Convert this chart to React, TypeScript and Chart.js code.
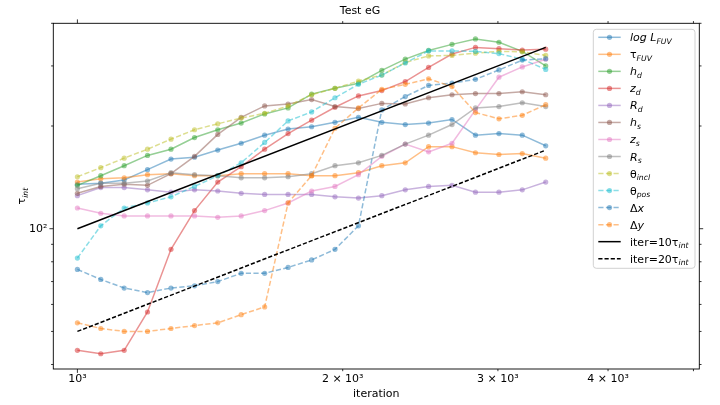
import { useEffect, useRef } from 'react';
import { Chart, registerables } from 'chart.js';

Chart.register(...registerables);

const FONT = '"DejaVu Sans", sans-serif';

// iteration values (x)
const iterations = [1000, 1063, 1130, 1201, 1277, 1358, 1443, 1534, 1631, 1734, 1844, 1960, 2084, 2215, 2355, 2503, 2661, 2829, 3008, 3197, 3399];

// autocorrelation time per parameter
const logLFUV = [135, 136, 139, 149, 160, 162, 170, 178, 188, 196, 199, 205, 212, 205, 202, 204, 209, 188, 190, 188, 175];
const tauFUV = [137, 140, 141, 144, 145, 143, 143, 145, 145, 145, 143, 143, 146, 153, 156, 174, 174, 167, 165, 166, 161];
const hD = [134, 143, 153, 164, 171, 185, 195, 204, 217, 226, 248, 258, 267, 291, 314, 333, 347, 360, 352, 331, 300];
const zD = [44, 43, 44, 57, 87, 113, 137, 152, 171, 190, 208, 227, 245, 254, 270, 297, 325, 340, 337, 334, 336];
const rD = [125, 132, 132, 130, 128, 130, 129, 127, 126, 126, 126, 124, 123, 125, 130, 133, 134, 128, 128, 130, 137];
const hS = [127, 133, 135, 134, 145, 163, 189, 212, 229, 232, 239, 228, 225, 233, 232, 242, 247, 249, 249, 252, 247];
const zS = [115, 111, 109, 109, 109, 109, 108, 109, 113, 119, 129, 133, 144, 163, 177, 168, 178, 223, 278, 298, 314];
const rS = [131, 136, 136, 138, 146, 144, 143, 141, 141, 142, 145, 153, 156, 164, 177, 188, 202, 226, 228, 234, 228];
const thetaIncl = [142, 151, 161, 171, 183, 195, 203, 211, 218, 229, 247, 258, 271, 282, 307, 321, 322, 327, 331, 330, 322];
const thetaPos = [82, 102, 115, 119, 124, 133, 143, 156, 179, 207, 220, 242, 265, 282, 306, 332, 332, 331, 326, 314, 293];
const deltaX = [76, 71, 67, 65, 67, 68, 70, 74, 74, 77, 81, 87, 102, 223, 244, 263, 267, 274, 292, 312, 315];
const deltaY = [53, 51, 50, 50, 51, 52, 53, 56, 59, 119, 143, 197, 226, 256, 265, 275, 261, 219, 210, 215, 231];

// reference lines iter = 10 tau, iter = 20 tau
const refIter = [1000, 3399];
const ref10 = [100, 339.9];
const ref20 = [50, 169.95];

// ticks
const xTickValues = [1000, 2000, 3000, 4000, 5000];
const xTickLabels = ['10³', '2 × 10³', '3 × 10³', '4 × 10³', ''];
const xTickMajor = [true, false, false, false, false];
const yTickValues = [40, 50, 60, 70, 80, 90, 100, 200, 300, 400];
const yTickLabels = ['', '', '', '', '', '', '10²', '', '', ''];
const yTickMajor = [false, false, false, false, false, false, true, false, false, false];

type Part = { t: string; it?: boolean; sub?: boolean };

const seriesDefs: { parts: Part[]; values: number[]; color: number[]; dashed: boolean }[] = [
  { parts: [{ t: 'log L', it: true }, { t: 'FUV', it: true, sub: true }], values: logLFUV, color: [31, 119, 180], dashed: false },
  { parts: [{ t: 'τ' }, { t: 'FUV', it: true, sub: true }], values: tauFUV, color: [255, 127, 14], dashed: false },
  { parts: [{ t: 'h', it: true }, { t: 'd', it: true, sub: true }], values: hD, color: [44, 160, 44], dashed: false },
  { parts: [{ t: 'z', it: true }, { t: 'd', it: true, sub: true }], values: zD, color: [214, 39, 40], dashed: false },
  { parts: [{ t: 'R', it: true }, { t: 'd', it: true, sub: true }], values: rD, color: [148, 103, 189], dashed: false },
  { parts: [{ t: 'h', it: true }, { t: 's', it: true, sub: true }], values: hS, color: [140, 86, 75], dashed: false },
  { parts: [{ t: 'z', it: true }, { t: 's', it: true, sub: true }], values: zS, color: [227, 119, 194], dashed: false },
  { parts: [{ t: 'R', it: true }, { t: 's', it: true, sub: true }], values: rS, color: [127, 127, 127], dashed: false },
  { parts: [{ t: 'θ' }, { t: 'incl', it: true, sub: true }], values: thetaIncl, color: [188, 189, 34], dashed: true },
  { parts: [{ t: 'θ' }, { t: 'pos', it: true, sub: true }], values: thetaPos, color: [23, 190, 207], dashed: true },
  { parts: [{ t: 'Δ' }, { t: 'x', it: true }], values: deltaX, color: [31, 119, 180], dashed: true },
  { parts: [{ t: 'Δ' }, { t: 'y', it: true }], values: deltaY, color: [255, 127, 14], dashed: true },
];

const refDefs: { parts: Part[]; values: number[]; dashed: boolean }[] = [
  { parts: [{ t: 'iter=10' }, { t: 'τ' }, { t: 'int', it: true, sub: true }], values: ref10, dashed: false },
  { parts: [{ t: 'iter=20' }, { t: 'τ' }, { t: 'int', it: true, sub: true }], values: ref20, dashed: true },
];

const rgba = (c: number[], a: number) => `rgba(${c[0]},${c[1]},${c[2]},${a})`;
const DASH = [5.2, 2.4];
const SIZE = 11;

function partFont(p: Part, size: number) {
  const s = p.sub ? size * 0.7 : size;
  return `${p.it ? 'italic ' : ''}${s}px ${FONT}`;
}

function richWidth(ctx: CanvasRenderingContext2D, parts: Part[], size: number) {
  let w = 0;
  for (const p of parts) {
    ctx.font = partFont(p, size);
    w += ctx.measureText(p.t).width;
  }
  return w;
}

function drawRich(ctx: CanvasRenderingContext2D, parts: Part[], x: number, baseline: number, size: number) {
  let cx = x;
  ctx.textBaseline = 'alphabetic';
  ctx.textAlign = 'left';
  for (const p of parts) {
    ctx.font = partFont(p, size);
    ctx.fillText(p.t, cx, baseline + (p.sub ? size * 0.24 : 0));
    cx += ctx.measureText(p.t).width;
  }
}

export default function App() {
  const ref = useRef<HTMLCanvasElement>(null);

  useEffect(() => {
    if (!ref.current) return;

    const datasets: any[] = seriesDefs.map((s, i) => ({
      label: s.parts.map((p) => p.t).join(''),
      data: iterations.map((x, j) => ({ x, y: s.values[j] })),
      borderColor: rgba(s.color, 0.5),
      backgroundColor: rgba(s.color, 0.5),
      pointBackgroundColor: rgba(s.color, 0.5),
      pointBorderColor: rgba(s.color, 0),
      pointBorderWidth: 0,
      pointRadius: 2.6,
      borderWidth: 1.5,
      borderDash: s.dashed ? DASH : [],
      tension: 0,
      fill: false,
      order: 20 - i,
    }));
    refDefs.forEach((r, i) => {
      datasets.push({
        label: r.parts.map((p) => p.t).join(''),
        data: refIter.map((x, j) => ({ x, y: r.values[j] })),
        borderColor: '#000',
        backgroundColor: '#000',
        pointRadius: 0,
        borderWidth: 1.5,
        borderDash: r.dashed ? [4.2, 2] : [],
        tension: 0,
        fill: false,
        order: 2 - i,
      });
    });

    const overlay = {
      id: 'overlay',
      afterDraw(chart: any) {
        const ctx: CanvasRenderingContext2D = chart.ctx;
        const { left, right, top, bottom } = chart.chartArea;
        const xs = chart.scales.x;
        const ys = chart.scales.y;
        ctx.save();
        // frame
        ctx.strokeStyle = '#000';
        ctx.lineWidth = 0.9;
        ctx.setLineDash([]);
        ctx.strokeRect(left, top, right - left, bottom - top);
        // tick marks on all sides, outward
        ctx.beginPath();
        xTickValues.forEach((v, i) => {
          const px = xs.getPixelForValue(v);
          const len = xTickMajor[i] ? 3.9 : 2.2;
          ctx.moveTo(px, bottom);
          ctx.lineTo(px, bottom + len);
          ctx.moveTo(px, top);
          ctx.lineTo(px, top - len);
        });
        yTickValues.forEach((v, i) => {
          const py = ys.getPixelForValue(v);
          const len = yTickMajor[i] ? 3.9 : 2.2;
          ctx.moveTo(left, py);
          ctx.lineTo(left - len, py);
          ctx.moveTo(right, py);
          ctx.lineTo(right + len, py);
        });
        ctx.lineWidth = 0.8;
        ctx.stroke();

        ctx.fillStyle = '#000';
        // title (figure centered)
        ctx.font = `${SIZE}px ${FONT}`;
        ctx.textAlign = 'center';
        ctx.textBaseline = 'alphabetic';
        ctx.fillText('Test eG', 360, 14);
        // x label
        ctx.fillText('iteration', (left + right) / 2, 397);
        // y label
        const yParts: Part[] = [{ t: 'τ' }, { t: 'int', it: true, sub: true }];
        const yw = richWidth(ctx, yParts, SIZE);
        ctx.save();
        ctx.translate(25, (top + bottom) / 2);
        ctx.rotate(-Math.PI / 2);
        drawRich(ctx, yParts, -yw / 2, 0, SIZE);
        ctx.restore();

        // legend
        const lx = 593.3, ly = 29.3, lw = 101.7, lh = 239;
        ctx.beginPath();
        const r = 3;
        ctx.moveTo(lx + r, ly);
        ctx.lineTo(lx + lw - r, ly);
        ctx.quadraticCurveTo(lx + lw, ly, lx + lw, ly + r);
        ctx.lineTo(lx + lw, ly + lh - r);
        ctx.quadraticCurveTo(lx + lw, ly + lh, lx + lw - r, ly + lh);
        ctx.lineTo(lx + r, ly + lh);
        ctx.quadraticCurveTo(lx, ly + lh, lx, ly + lh - r);
        ctx.lineTo(lx, ly + r);
        ctx.quadraticCurveTo(lx, ly, lx + r, ly);
        ctx.closePath();
        ctx.fillStyle = 'rgba(255,255,255,0.8)';
        ctx.fill();
        ctx.strokeStyle = '#cccccc';
        ctx.lineWidth = 0.9;
        ctx.stroke();

        const rowH = 17.03;
        const x0 = 598.3, x1 = 620.7, tx = 630;
        seriesDefs.forEach((s, i) => {
          const yy = 37.3 + rowH * i;
          ctx.beginPath();
          ctx.strokeStyle = rgba(s.color, 0.5);
          ctx.lineWidth = 1.5;
          ctx.setLineDash(s.dashed ? DASH : []);
          ctx.moveTo(x0, yy);
          ctx.lineTo(x1, yy);
          ctx.stroke();
          ctx.setLineDash([]);
          ctx.beginPath();
          ctx.fillStyle = rgba(s.color, 0.5);
          ctx.arc((x0 + x1) / 2, yy, 2.6, 0, Math.PI * 2);
          ctx.fill();
          ctx.fillStyle = '#000';
          drawRich(ctx, s.parts, tx, yy + 4, SIZE);
        });
        refDefs.forEach((rd, k) => {
          const yy = 37.3 + rowH * (seriesDefs.length + k);
          ctx.beginPath();
          ctx.strokeStyle = '#000';
          ctx.lineWidth = 1.5;
          ctx.setLineDash(rd.dashed ? [4.2, 2] : []);
          ctx.moveTo(x0, yy);
          ctx.lineTo(x1, yy);
          ctx.stroke();
          ctx.setLineDash([]);
          ctx.fillStyle = '#000';
          drawRich(ctx, rd.parts, tx, yy + 4, SIZE);
        });
        ctx.restore();
      },
    };

    const chart = new Chart(ref.current, {
      type: 'line',
      data: { datasets },
      options: {
        animation: false,
        responsive: false,
        maintainAspectRatio: false,
        layout: { padding: { top: 23.3, right: 20.7, left: 0, bottom: 0 } },
        plugins: {
          legend: { display: false },
          tooltip: { enabled: false },
          title: { display: false },
        },
        scales: {
          x: {
            type: 'logarithmic',
            min: 939,
            max: 5077,
            afterBuildTicks: (s: any) => {
              s.ticks = xTickValues.map((v, i) => ({ value: v, major: xTickMajor[i] }));
            },
            afterFit: (s: any) => {
              s.height = 36;
            },
            ticks: {
              autoSkip: false,
              maxRotation: 0,
              minRotation: 0,
              padding: 4,
              color: '#000',
              font: { family: FONT, size: SIZE },
              callback: (_v: any, i: number) => xTickLabels[i] ?? '',
            },
            grid: { display: false, drawTicks: false },
            border: { display: false },
          },
          y: {
            type: 'logarithmic',
            min: 38.8,
            max: 400,
            afterBuildTicks: (s: any) => {
              s.ticks = yTickValues.map((v, i) => ({ value: v, major: yTickMajor[i] }));
            },
            afterFit: (s: any) => {
              s.width = 53.3;
            },
            ticks: {
              autoSkip: false,
              padding: 6,
              color: '#000',
              font: { family: FONT, size: SIZE },
              callback: (_v: any, i: number) => yTickLabels[i] ?? '',
            },
            grid: { display: false, drawTicks: false },
            border: { display: false },
          },
        },
      } as any,
      plugins: [overlay],
    });

    return () => chart.destroy();
  }, []);

  return (
    <div style={{ position: 'fixed', left: 0, top: 0, width: 720, height: 405, background: '#fff' }}>
      <canvas ref={ref} width={720} height={405} style={{ width: 720, height: 405, display: 'block' }} />
    </div>
  );
}
